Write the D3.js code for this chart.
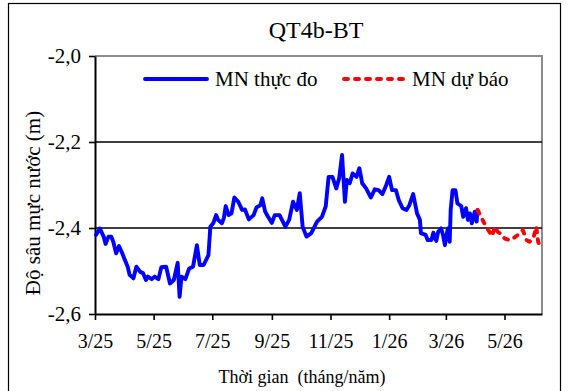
<!DOCTYPE html>
<html>
<head>
<meta charset="utf-8">
<script src="https://cdn.jsdelivr.net/npm/d3@7/dist/d3.min.js"></script>
<style>
  html, body { margin: 0; padding: 0; background: #fff; }
  svg { display: block; }
  svg text { font-family: "Liberation Serif", "Times New Roman", serif; white-space: pre; }
</style>
</head>
<body>
<svg id="chart" width="568" height="391"></svg>
<script>
// Observed groundwater depth (MN thực đo)
const observedDates = [
  "2025-03-02","2025-03-06","2025-03-10","2025-03-12","2025-03-15","2025-03-18","2025-03-20","2025-03-23",
  "2025-03-26","2025-03-29","2025-04-01","2025-04-04","2025-04-06","2025-04-10","2025-04-13","2025-04-17",
  "2025-04-20","2025-04-23","2025-04-25","2025-04-29","2025-05-02","2025-05-06","2025-05-09","2025-05-14",
  "2025-05-18","2025-05-22","2025-05-26","2025-05-28","2025-05-30","2025-06-03","2025-06-07","2025-06-11",
  "2025-06-15","2025-06-18","2025-06-22","2025-06-27","2025-06-29","2025-07-02","2025-07-05","2025-07-07",
  "2025-07-11","2025-07-13","2025-07-15","2025-07-18","2025-07-21","2025-07-24","2025-07-28","2025-08-01",
  "2025-08-04","2025-08-08","2025-08-13","2025-08-16","2025-08-20","2025-08-22","2025-08-25","2025-08-28",
  "2025-09-01","2025-09-04","2025-09-09","2025-09-15","2025-09-19","2025-09-23","2025-09-27","2025-09-30",
  "2025-10-03","2025-10-07","2025-10-12","2025-10-18","2025-10-23","2025-10-27","2025-10-30","2025-11-03",
  "2025-11-07","2025-11-10","2025-11-13","2025-11-16","2025-11-18","2025-11-21","2025-11-24","2025-11-28",
  "2025-12-01","2025-12-04","2025-12-08","2025-12-13","2025-12-17","2025-12-21","2025-12-25","2025-12-29",
  "2026-01-01","2026-01-04","2026-01-08","2026-01-11","2026-01-15","2026-01-19","2026-01-22","2026-01-26",
  "2026-01-30","2026-02-02","2026-02-03","2026-02-08","2026-02-10","2026-02-14","2026-02-16","2026-02-19",
  "2026-02-21","2026-02-24","2026-02-26","2026-02-28","2026-03-03","2026-03-05","2026-03-06","2026-03-08",
  "2026-03-11","2026-03-13","2026-03-17","2026-03-19","2026-03-22","2026-03-24","2026-03-26","2026-03-28",
  "2026-03-31","2026-04-02","2026-04-03"
];
const observedValues = [
  -2.416,-2.401,-2.420,-2.437,-2.420,-2.420,-2.432,-2.459,
  -2.442,-2.457,-2.474,-2.490,-2.509,-2.517,-2.490,-2.502,
  -2.505,-2.521,-2.513,-2.519,-2.513,-2.519,-2.491,-2.490,
  -2.529,-2.521,-2.481,-2.560,-2.513,-2.519,-2.494,-2.490,
  -2.440,-2.486,-2.486,-2.463,-2.397,-2.389,-2.370,-2.381,
  -2.389,-2.377,-2.349,-2.370,-2.366,-2.329,-2.339,-2.358,
  -2.357,-2.380,-2.370,-2.352,-2.347,-2.331,-2.362,-2.374,
  -2.388,-2.370,-2.370,-2.397,-2.381,-2.339,-2.358,-2.319,
  -2.397,-2.420,-2.412,-2.385,-2.374,-2.350,-2.281,-2.281,
  -2.308,-2.284,-2.230,-2.339,-2.288,-2.296,-2.273,-2.281,
  -2.261,-2.296,-2.308,-2.329,-2.310,-2.312,-2.321,-2.300,
  -2.281,-2.312,-2.312,-2.335,-2.354,-2.358,-2.347,-2.321,
  -2.366,-2.381,-2.412,-2.416,-2.428,-2.428,-2.411,-2.430,
  -2.409,-2.401,-2.416,-2.440,-2.401,-2.432,-2.358,-2.312,
  -2.312,-2.343,-2.349,-2.374,-2.354,-2.381,-2.366,-2.389,
  -2.362,-2.385,-2.358
];

// Forecast groundwater depth (MN dự báo)
const forecastDates = [
  "2026-04-03","2026-04-09","2026-04-12","2026-04-18","2026-04-21","2026-04-24","2026-04-29","2026-05-01",
  "2026-05-06","2026-05-10","2026-05-15","2026-05-20","2026-05-24","2026-05-27","2026-05-31","2026-06-03",
  "2026-06-05","2026-06-07"
];
const forecastValues = [
  -2.358,-2.385,-2.397,-2.419,-2.397,-2.409,-2.416,-2.424,
  -2.428,-2.424,-2.416,-2.405,-2.428,-2.432,-2.424,-2.397,
  -2.432,-2.443
];

const xTickLabels = ["3/25","5/25","7/25","9/25","11/25","1/26","3/26","5/26"];
const yTickValues = [-2.0, -2.2, -2.4, -2.6];
const seriesNames = ["MN thực đo", "MN dự báo"];
const chartTitle = "QT4b-BT";
const xTitle = "Thời gian  (tháng/năm)";
const yTitle = "Độ sâu mực nước (m)";

const FONT = "Liberation Serif";
const parse = d3.utcParse("%Y-%m-%d");
const observed = observedDates.map((d, i) => ({ date: parse(d), value: observedValues[i] }));
const forecast = forecastDates.map((d, i) => ({ date: parse(d), value: forecastValues[i] }));
const xTicks = xTickLabels.map(s => {
  const [m, y] = s.split("/").map(Number);
  return new Date(Date.UTC(2000 + y, m - 1, 1));
});

const svg = d3.select("#chart");
const plot = { left: 95, right: 542, top: 56, bottom: 314 };

// outer frame
svg.append("rect")
  .attr("x", 8.5).attr("y", 3.5)
  .attr("width", 552).attr("height", 400)
  .attr("fill", "none").attr("stroke", "#000").attr("stroke-width", 1.2);

const x = d3.scaleUtc()
  .domain([new Date(Date.UTC(2025, 2, 1)), new Date(Date.UTC(2026, 5, 9))])
  .range([plot.left, plot.right]);
const y = d3.scaleLinear()
  .domain([-2.6, -2.0])
  .range([plot.bottom, plot.top]);

// plot frame (top & right in grey)
svg.append("path")
  .attr("d", `M${plot.left},${plot.top}H${plot.right}V${plot.bottom}`)
  .attr("fill", "none").attr("stroke", "#8c8c8c").attr("stroke-width", 2);

// horizontal gridlines
svg.append("g")
  .selectAll("line")
  .data(yTickValues.filter(v => v > -2.6 && v < -2.0))
  .join("line")
  .attr("x1", plot.left).attr("x2", plot.right)
  .attr("y1", d => y(d)).attr("y2", d => y(d))
  .attr("stroke", "#000").attr("stroke-width", 1.6);

const fmtY = v => d3.format(".1f")(v).replace(".", ",").replace("\u2212", "-");

// y axis
const yAxis = svg.append("g")
  .attr("transform", `translate(${plot.left},0)`)
  .call(d3.axisLeft(y).tickValues(yTickValues).tickSize(6).tickSizeOuter(0).tickPadding(8).tickFormat(fmtY));
yAxis.attr("font-family", FONT);
yAxis.select(".domain").attr("stroke", "#000").attr("stroke-width", 2);
yAxis.selectAll(".tick line").attr("stroke", "#000").attr("stroke-width", 1.6);
yAxis.selectAll(".tick text")
  .attr("font-family", FONT).attr("font-size", 21).attr("fill", "#000");

// x axis
const xAxis = svg.append("g")
  .attr("transform", `translate(0,${plot.bottom})`)
  .call(d3.axisBottom(x).tickValues(xTicks).tickSize(6).tickSizeOuter(0).tickPadding(14)
    .tickFormat((d, i) => xTickLabels[i]));
xAxis.attr("font-family", FONT);
xAxis.select(".domain").attr("stroke", "#000").attr("stroke-width", 2);
xAxis.selectAll(".tick line").attr("stroke", "#000").attr("stroke-width", 1.6);
xAxis.selectAll(".tick text")
  .attr("font-family", FONT).attr("font-size", 20).attr("fill", "#000");

// series
const line = d3.line().x(d => x(d.date)).y(d => y(d.value));
svg.append("path")
  .datum(observed)
  .attr("d", line)
  .attr("fill", "none").attr("stroke", "#0000ff").attr("stroke-width", 3.9)
  .attr("stroke-linejoin", "round").attr("stroke-linecap", "round");
svg.append("path")
  .datum(forecast)
  .attr("d", line)
  .attr("fill", "none").attr("stroke", "#ff0000").attr("stroke-width", 3.9)
  .attr("stroke-dasharray", "4,7").attr("stroke-linecap", "round")
  .attr("stroke-linejoin", "round");

// legend
const legend = svg.append("g");
const legendItems = [
  { name: seriesNames[0], x1: 145, x2: 207, tx: 215, color: "#0000ff", dash: null },
  { name: seriesNames[1], x1: 344, x2: 404, tx: 412, color: "#ff0000", dash: "4,7" }
];
legendItems.forEach(it => {
  legend.append("line")
    .attr("x1", it.x1).attr("x2", it.x2).attr("y1", 79).attr("y2", 79)
    .attr("stroke", it.color).attr("stroke-width", 3.9)
    .attr("stroke-linecap", "round")
    .attr("stroke-dasharray", it.dash);
  legend.append("text")
    .attr("x", it.tx).attr("y", 86)
    .attr("font-family", FONT)
    .attr("font-size", 21).attr("fill", "#000")
    .text(it.name);
});

// titles
svg.append("text")
  .attr("x", 316).attr("y", 38)
  .attr("text-anchor", "middle")
  .attr("font-family", FONT)
  .attr("font-size", 24).attr("fill", "#000")
  .text(chartTitle);
svg.append("text")
  .attr("x", 302).attr("y", 383)
  .attr("text-anchor", "middle")
  .attr("font-family", FONT)
  .attr("font-size", 18).attr("fill", "#000")
  .text(xTitle);
svg.append("text")
  .attr("transform", `translate(40,${(plot.top + plot.bottom) / 2 + 18}) rotate(-90)`)
  .attr("text-anchor", "middle")
  .attr("font-family", FONT)
  .attr("font-size", 21).attr("fill", "#000")
  .text(yTitle);
</script>
</body>
</html>
